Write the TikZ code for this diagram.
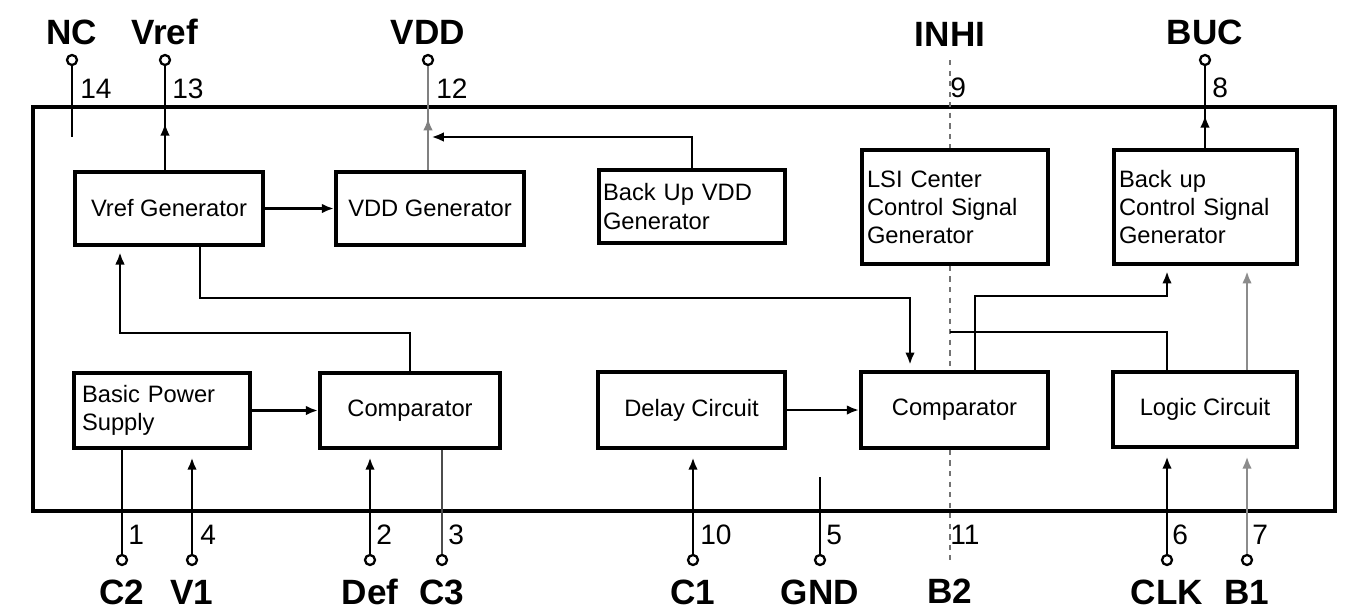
\documentclass[tikz,border=0pt]{standalone}
\usepackage{fontspec}
\setmainfont{Liberation Sans}
\usetikzlibrary{arrows.meta,calc,positioning,decorations.markings}

\tikzset{
    >={Latex[length=7pt,width=5.5pt]},
    blk/.style={draw, line width=2.2pt, inner sep=0pt, font=\fontsize{13.5}{16}\selectfont},
    blkl/.style={blk, align=left, text width=#1},
    conn/.style={line width=1.6pt},
    faded/.style={conn, dashed, black!55},
    pin/.style={circle, draw, line width=1.3pt, fill=white, minimum size=0.2cm, inner sep=0pt},
    pinlbl/.style={inner sep=0pt, text height=14.5pt, text depth=0pt, font=\bfseries\fontsize{20}{24}\selectfont},
    pinnum/.style={inner sep=0pt, anchor=base west, font=\fontsize{16}{19}\selectfont},
    midarrow/.style={postaction={decorate}, decoration={markings, mark=at position #1 with {\arrow{>}}}},
}

\begin{document}
\begin{tikzpicture}[x=0.02cm, y=-0.02cm]
                    \useasboundingbox (0,0) rectangle (1349,613);
                    % Package outline:
                    \draw[line width=2.8pt] (33,107) rectangle (1335,511);
                    % Blocks:
                    \node[blk, minimum width=3.76cm, minimum height=1.46cm] (vrefgen) at (169,208.5) {Vref Generator};
                    \node[blk, minimum width=3.76cm, minimum height=1.46cm] (vddgen) at (430,208.5) {VDD Generator};
                    \node[blkl=3.56cm, minimum width=3.72cm, minimum height=1.46cm] (bkvdd) at (692,206.5) {Back Up VDD\\Generator};
                    \node[blkl=3.52cm, minimum width=3.72cm, minimum height=2.28cm] (lsi) at (955,207) {LSI Center\\Control Signal\\Generator};
                    \node[blkl=3.46cm, minimum width=3.66cm, minimum height=2.28cm] (bkctl) at (1205.5,207) {Back up\\Control Signal\\Generator};
                    \node[blkl=3.2cm, minimum width=3.52cm, minimum height=1.5cm] (bps) at (162,410.5) {Basic Power\\Supply};
                    \node[blk, minimum width=3.6cm, minimum height=1.5cm] (cmpl) at (410,410.5) {Comparator};
                    \node[blk, minimum width=3.74cm, minimum height=1.52cm] (delay) at (691.5,410) {Delay Circuit};
                    \node[blk, minimum width=3.74cm, minimum height=1.52cm] (cmpr) at (954.5,410) {Comparator};
                    \node[blk, minimum width=3.68cm, minimum height=1.5cm] (logic) at (1205,409.5) {Logic Circuit};
                    % Pins:
                    \node[pin] (pNC) at (72,60) {};
                    \node[pin] (pVref) at (165,60) {};
                    \node[pin] (pVDD) at (428,60) {};
                    \coordinate (pINHI) at (950,60);
                    \node[pin] (pBUC) at (1205,60) {};
                    \node[pin] (pC2) at (122,560) {};
                    \node[pin] (pV1) at (192,560) {};
                    \node[pin] (pDef) at (370,560) {};
                    \node[pin] (pC3) at (442,560) {};
                    \node[pin] (pC1) at (693,560) {};
                    \node[pin] (pGND) at (820,560) {};
                    \coordinate (pB2) at (950,560);
                    \node[pin] (pCLK) at (1167,560) {};
                    \node[pin] (pB1) at (1247,560) {};
                    \node[pinlbl, above=0.18cm of pNC] (lNC) {NC};
                    \node[pinlbl, above=0.18cm of pVref] (lVref) {Vref};
                    \node[pinlbl, above=0.18cm of pVDD] (lVDD) {VDD};
                    \node[pinlbl, above=0.26cm of pINHI] (lINHI) {INHI};
                    \node[pinlbl, above=0.18cm of pBUC] (lBUC) {BUC};
                    \node[pinlbl, below=0.26cm of pC2] (lC2) {C2};
                    \node[pinlbl, below=0.26cm of pV1] (lV1) {V1};
                    \node[pinlbl, below=0.26cm of pDef] (lDef) {Def};
                    \node[pinlbl, below=0.26cm of pC3] (lC3) {C3};
                    \node[pinlbl, below=0.26cm of pC1] (lC1) {C1};
                    \node[pinlbl, below=0.26cm of pGND] (lGND) {GND};
                    \node[pinlbl, below=0.36cm of pB2] (lB2) {B2};
                    \node[pinlbl, below=0.26cm of pCLK] (lCLK) {CLK};
                    \node[pinlbl, below=0.26cm of pB1] (lB1) {B1};
                    % Pin numbers:
                    \node[pinnum] (n14) at (80,98) {14};
                    \node[pinnum] (n13) at (172,98) {13};
                    \node[pinnum] (n12) at (436,98) {12};
                    \node[pinnum] (n9) at (950,97) {9};
                    \node[pinnum] (n8) at (1212,97) {8};
                    \node[pinnum] (n1) at (128,544) {1};
                    \node[pinnum] (n4) at (200,544) {4};
                    \node[pinnum] (n2) at (376,544) {2};
                    \node[pinnum] (n3) at (448,544) {3};
                    \node[pinnum] (n10) at (700,544) {10};
                    \node[pinnum] (n5) at (826,544) {5};
                    \node[pinnum] (n11) at (950,544) {11};
                    \node[pinnum] (n6) at (1172,544) {6};
                    \node[pinnum] (n7) at (1252,544) {7};
                    % Paths and wires:
                    \coordinate (ncend) at (72,137);
                    \coordinate (jvdd) at (428,137);
                    \coordinate (busA) at (200,298);
                    \coordinate (busB) at (120,333);
                    \coordinate (busC) at (975,296);
                    \coordinate (busD) at (950,332);
                    \coordinate (gndend) at (820,477);
                    \draw[conn] (pNC) -- (ncend);
                    \draw[conn, midarrow=0.45] (vrefgen.north -| pVref) -- (pVref);
                    \draw[conn, black!50, midarrow=0.5] (vddgen.north -| pVDD) -- (pVDD);
                    \draw[conn, midarrow=0.4] (bkctl.north -| pBUC) -- (pBUC);
                    \draw[conn, ->] (vrefgen) -- (vddgen);
                    \draw[conn, ->, shorten >=2pt] (bkvdd.north) |- (jvdd);
                    \draw[faded] (pINHI) -- (lsi.north -| pINHI);
                    \draw[faded] (lsi.south -| pINHI) -- (cmpr.north -| pINHI);
                    \draw[faded] (cmpr.south -| pINHI) -- (pB2);
                    \draw[conn, ->, shorten >=3pt] (vrefgen.south -| busA) -- (busA) -| ($(cmpr.north)+(-44.5,0)$);
                    \draw[conn, ->, shorten >=3pt] (cmpl.north) |- (busB) -- (busB |- vrefgen.south);
                    \draw[conn, ->] (bps) -- (cmpl);
                    \draw[conn, ->] (delay.east) -- (delay.east -| cmpr.west);
                    \draw[conn, ->, shorten >=3pt] (cmpr.north -| busC) -- (busC) -| (bkctl.south -| pCLK);
                    \draw[conn] (logic.north -| pCLK) |- (busD);
                    \draw[conn, black!45, ->, shorten >=3pt] (logic.north -| pB1) -- (bkctl.south -| pB1);
                    \draw[conn] (bps.south -| pC2) -- (pC2);
                    \draw[conn, ->, shorten >=0.15cm] (pV1) -- (bps.south -| pV1);
                    \draw[conn, ->, shorten >=0.15cm] (pDef) -- (cmpl.south -| pDef);
                    \draw[conn, black!70] (cmpl.south -| pC3) -- (pC3);
                    \draw[conn, ->, shorten >=0.15cm] (pC1) -- (delay.south -| pC1);
                    \draw[conn] (gndend) -- (pGND);
                    \draw[conn, ->, shorten >=0.15cm] (pCLK) -- (logic.south -| pCLK);
                    \draw[conn, black!45, ->, shorten >=0.15cm] (pB1) -- (logic.south -| pB1);
                \end{tikzpicture}
\end{document}
